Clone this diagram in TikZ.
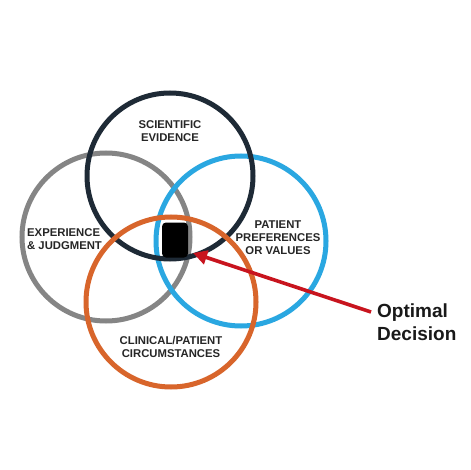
\documentclass[tikz,border=0pt]{standalone}
\usepackage{fontspec}
\setmainfont{Liberation Sans}
\usetikzlibrary{arrows.meta}
\definecolor{navy}{HTML}{1E2A36}
\definecolor{grayc}{HTML}{858585}
\definecolor{bluec}{HTML}{2AA7E1}
\definecolor{orangec}{HTML}{D8652B}
\definecolor{redc}{HTML}{C8141E}
\begin{document}
\begin{tikzpicture}[x=1pt,y=-1pt,
  ring/.style={line width=5pt},
  lab/.style={font=\fontsize{11.3}{13}\selectfont\bfseries, text=black!85, inner sep=0pt},
  bigl/.style={font=\fontsize{19}{23}\selectfont\bfseries, text=black!90, inner sep=0pt, align=left},
  arr/.style={draw=redc, line width=3.6pt, -{Triangle[length=14pt,width=14pt]}}]
\useasboundingbox (0,0) rectangle (470,470);
\fill[white] (0,0) rectangle (470,470);
\draw[ring, grayc] (106,237) circle (84);
\draw[ring, bluec] (241,241) circle (85);
\draw[ring, navy] (170,176) circle (83);
\draw[ring, orangec] (171,302) circle (85);
\node[fill=black, rounded corners=4pt, minimum width=26pt, minimum height=35pt, inner sep=0pt] (core) at (175,240) {};
\node[lab, align=center] (sci) at (170,131) {SCIENTIFIC\\EVIDENCE};
\node[lab, align=left, anchor=west] (exp) at (27,239) {EXPERIENCE\\\& JUDGMENT};
\node[lab, align=center] (pat) at (278,238) {PATIENT\\PREFERENCES\\OR VALUES};
\node[lab, align=center] (cli) at (171,347) {CLINICAL/PATIENT\\CIRCUMSTANCES};
\node[bigl, anchor=west] (opt) at (377,322) {Optimal\\Decision};
\coordinate (tail) at (371,312);
\coordinate (tip) at (193,253);
\draw[arr] (tail) -- (tip);
\end{tikzpicture}
\end{document}
